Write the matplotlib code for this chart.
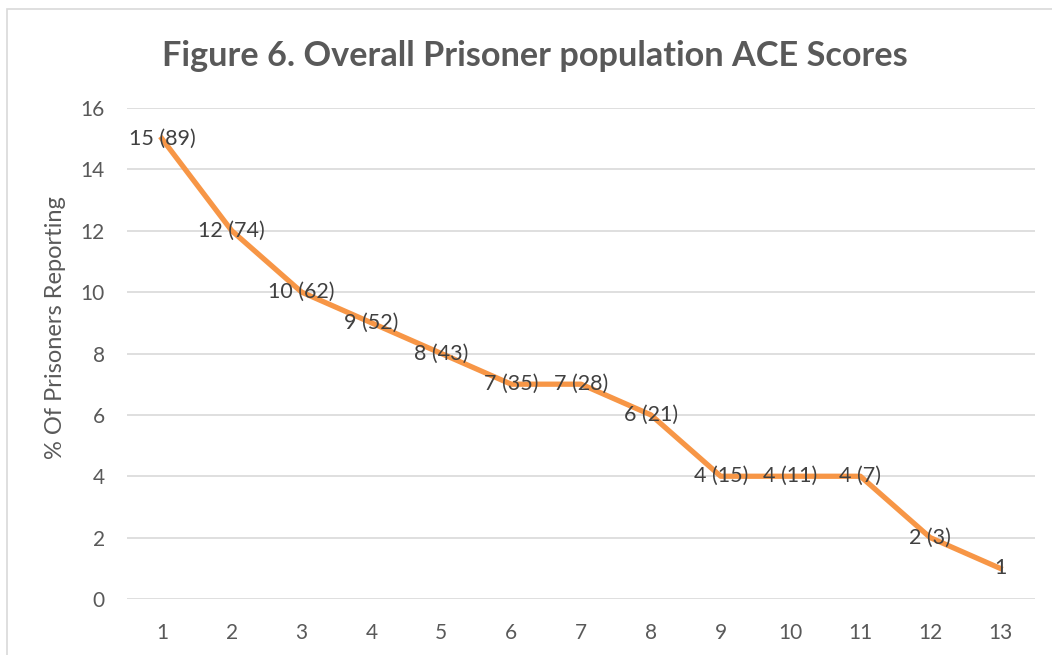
import matplotlib
matplotlib.use("Agg")
import matplotlib.pyplot as plt
from matplotlib.patches import Rectangle

scores = ["1", "2", "3", "4", "5", "6", "7", "8", "9", "10", "11", "12", "13"]
percent = [15, 12, 10, 9, 8, 7, 7, 6, 4, 4, 4, 2, 1]
labels = ["15 (89)", "12 (74)", "10 (62)", "9 (52)", "8 (43)", "7 (35)", "7 (28)",
          "6 (21)", "4 (15)", "4 (11)", "4 (7)", "2 (3)", "1"]
yticks = [0, 2, 4, 6, 8, 10, 12, 14, 16]

plt.rcParams['font.family'] = ['Lato', 'DejaVu Sans']
txt = "#595959"

fig = plt.figure(figsize=(10.52, 6.55), dpi=100)
fig.patches.append(Rectangle((7/1052, -0.1), 1.2, 1 - 9/655 + 0.1, transform=fig.transFigure,
                             fill=False, edgecolor="#D9D9D9", linewidth=1.2))
ax = fig.add_axes([127/1052, 1 - 599/655, (1035-127)/1052, (599-108)/655])

x = list(range(1, len(scores) + 1))
ax.plot(x, percent, color="#F79646", linewidth=3.8, solid_joinstyle="round", zorder=3)
for xi, yi, lab in zip(x, percent, labels):
    ax.text(xi, yi, lab, ha="center", va="center", fontsize=15.5, color="#404040", zorder=4)

ax.set_xlim(0.5, len(scores) + 0.5)
ax.set_ylim(0, 16)
ax.set_yticks(yticks)
ax.set_xticks(x)
ax.set_xticklabels(scores)
ax.grid(axis="y", color="#D9D9D9", linewidth=1.2)
ax.set_axisbelow(True)
for s in ax.spines.values():
    s.set_visible(False)
ax.tick_params(axis="both", length=0, labelsize=15, labelcolor=txt)
ax.tick_params(axis="y", pad=16)
ax.tick_params(axis="x", pad=17)
ax.set_ylabel("% Of Prisoners Reporting", fontsize=17, color=txt, va="center")
ax.yaxis.set_label_coords(-(127 - 56) / 908, (599 - 328) / 491)

fig.text(535/1052, 1 - 56/655, "Figure 6. Overall Prisoner population ACE Scores",
         ha="center", va="center", fontsize=24.7, fontweight="bold", color=txt)

fig.savefig("out.png", dpi=100)
